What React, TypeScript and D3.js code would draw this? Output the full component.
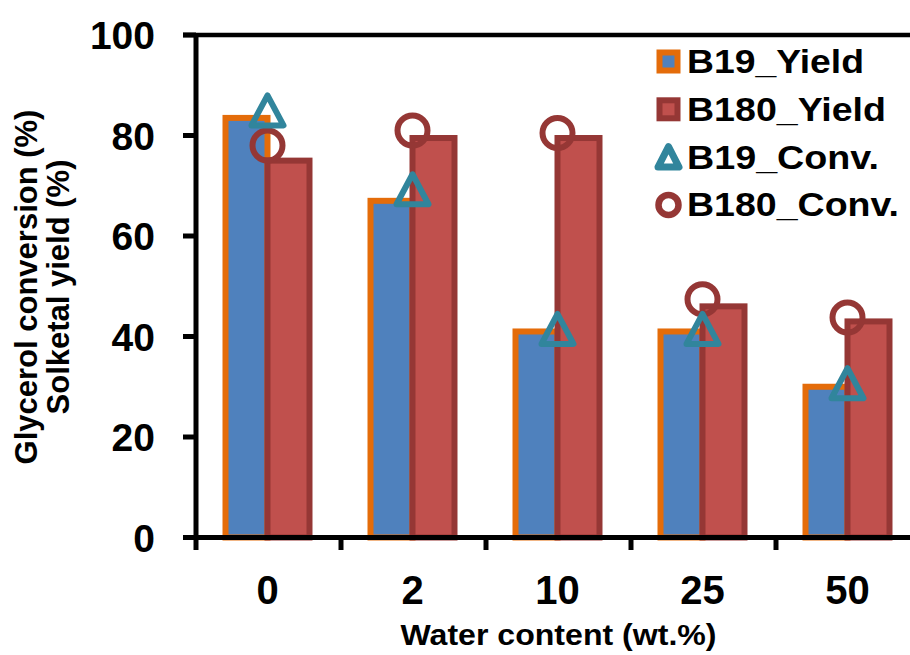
import React from "react";
import * as d3 from "d3";

const categories = ["0", "2", "10", "25", "50"];
const b19Yield = [83.5, 67, 41, 41, 30];
const b180Yield = [75, 79.5, 79.5, 46, 43];
const b19Conv = [85, 69.3, 41.5, 41.5, 30.7];
const b180Conv = [78, 81, 80.5, 47.4, 43.8];
const yTicks = [0, 20, 40, 60, 80, 100];
const barSeries = ["B19_Yield", "B180_Yield"];

const W = 910;
const H = 655;
const FONT = "'Liberation Sans', Arial, Helvetica, sans-serif";

const BLUE = "#4F81BD";
const ORANGE = "#E46C0A";
const RED = "#C0504D";
const DARKRED = "#953735";
const TEAL = "#31859C";

export default function App() {
  const x0 = d3
    .scaleBand<string>()
    .domain(categories)
    .range([195, 920])
    .paddingInner(0.4207)
    .paddingOuter(0.4207 / 2);
  const x1 = d3.scaleBand<string>().domain(barSeries).range([0, x0.bandwidth()]);
  const y = d3.scaleLinear().domain([0, 100]).range([537.5, 35]);
  const cx = (c: string) => (x0(c) as number) + x0.bandwidth() / 2;

  const tri = (px: number, py: number, hw: number, hh: number, dyTop: number) =>
    `M${px},${py - dyTop} L${px + hw},${py + hh} L${px - hw},${py + hh} Z`;

  const legend = [
    { label: "B19_Yield", kind: "rect", fill: BLUE, stroke: ORANGE, len: 177 },
    { label: "B180_Yield", kind: "rect", fill: RED, stroke: DARKRED, len: 199 },
    { label: "B19_Conv.", kind: "tri", fill: "white", stroke: TEAL, len: 192 },
    { label: "B180_Conv.", kind: "circle", fill: "white", stroke: DARKRED, len: 212 },
  ];

  return (
    <svg width={W} height={H} style={{ position: "absolute", left: 0, top: 0, background: "white" }}>
      <rect x={0} y={0} width={W} height={H} fill="white" />
      {/* bars */}
      {categories.map((c, i) => (
        <g key={c}>
          <rect
            x={(x0(c) as number) + (x1("B19_Yield") as number)}
            y={y(b19Yield[i])}
            width={x1.bandwidth()}
            height={y(0) - y(b19Yield[i])}
            fill={BLUE}
            stroke={ORANGE}
            strokeWidth={6}
          />
          <rect
            x={(x0(c) as number) + (x1("B180_Yield") as number)}
            y={y(b180Yield[i])}
            width={x1.bandwidth()}
            height={y(0) - y(b180Yield[i])}
            fill={RED}
            stroke={DARKRED}
            strokeWidth={6}
          />
        </g>
      ))}
      {/* circle markers */}
      {categories.map((c, i) => (
        <circle key={"c" + c} cx={cx(c)} cy={y(b180Conv[i])} r={15} fill="none" stroke={DARKRED} strokeWidth={6} />
      ))}
      {/* triangle markers */}
      {categories.map((c, i) => (
        <path
          key={"t" + c}
          d={tri(cx(c), y(b19Conv[i]), 16, 15, 15)}
          fill="none"
          stroke={TEAL}
          strokeWidth={6}
          strokeLinejoin="round"
        />
      ))}
      {/* axes */}
      <line x1={183} x2={910} y1={35} y2={35} stroke="black" strokeWidth={4.5} />
      <line x1={196} x2={196} y1={33} y2={540} stroke="black" strokeWidth={5} />
      <line x1={183} x2={910} y1={537.5} y2={537.5} stroke="black" strokeWidth={5} />
      {yTicks.map((t) => (
        <g key={"yt" + t}>
          <line x1={183} x2={196} y1={y(t)} y2={y(t)} stroke="black" strokeWidth={5} />
          <text
            x={155}
            y={y(t) + 14}
            textAnchor="end"
            fontFamily={FONT}
            fontWeight="bold"
            fontSize={39}
            fill="black"
          >
            {t}
          </text>
        </g>
      ))}
      {d3.range(categories.length + 1).map((k) => {
        const xx = 196 + k * x0.step();
        return <line key={"xt" + k} x1={xx} x2={xx} y1={537} y2={550} stroke="black" strokeWidth={5} />;
      })}
      {categories.map((c) => (
        <text
          key={"xl" + c}
          x={cx(c)}
          y={604}
          textAnchor="middle"
          fontFamily={FONT}
          fontWeight="bold"
          fontSize={40}
          fill="black"
        >
          {c}
        </text>
      ))}
      {/* axis titles */}
      <text
        x={558.5}
        y={645}
        textAnchor="middle"
        fontFamily={FONT}
        fontWeight="bold"
        fontSize={30}
        fill="black"
        textLength={316}
        lengthAdjust="spacingAndGlyphs"
      >
        Water content (wt.%)
      </text>
      <text
        transform="translate(36.5,287) rotate(-90)"
        textAnchor="middle"
        fontFamily={FONT}
        fontWeight="bold"
        fontSize={31}
        fill="black"
      >
        Glycerol conversion (%)
      </text>
      <text
        transform="translate(68.5,287) rotate(-90)"
        textAnchor="middle"
        fontFamily={FONT}
        fontWeight="bold"
        fontSize={31}
        fill="black"
      >
        Solketal yield (%)
      </text>
      {/* legend */}
      {legend.map((l, i) => {
        const cy = 61.5 + i * 47.8;
        const mx = 668.5;
        let marker;
        if (l.kind === "rect") {
          marker = <rect x={mx - 9} y={cy - 9} width={18} height={18} fill={l.fill} stroke={l.stroke} strokeWidth={6} />;
        } else if (l.kind === "tri") {
          marker = (
            <path d={tri(mx, cy, 10.5, 10, 10.5)} fill="white" stroke={l.stroke} strokeWidth={7} strokeLinejoin="round" />
          );
        } else {
          marker = <circle cx={mx} cy={cy} r={10} fill="white" stroke={l.stroke} strokeWidth={6.5} />;
        }
        return (
          <g key={l.label}>
            {marker}
            <text
              x={687}
              y={cy + 11.5}
              fontFamily={FONT}
              fontWeight="bold"
              fontSize={33}
              fill="black"
              textLength={l.len}
              lengthAdjust="spacingAndGlyphs"
            >
              {l.label}
            </text>
          </g>
        );
      })}
    </svg>
  );
}
